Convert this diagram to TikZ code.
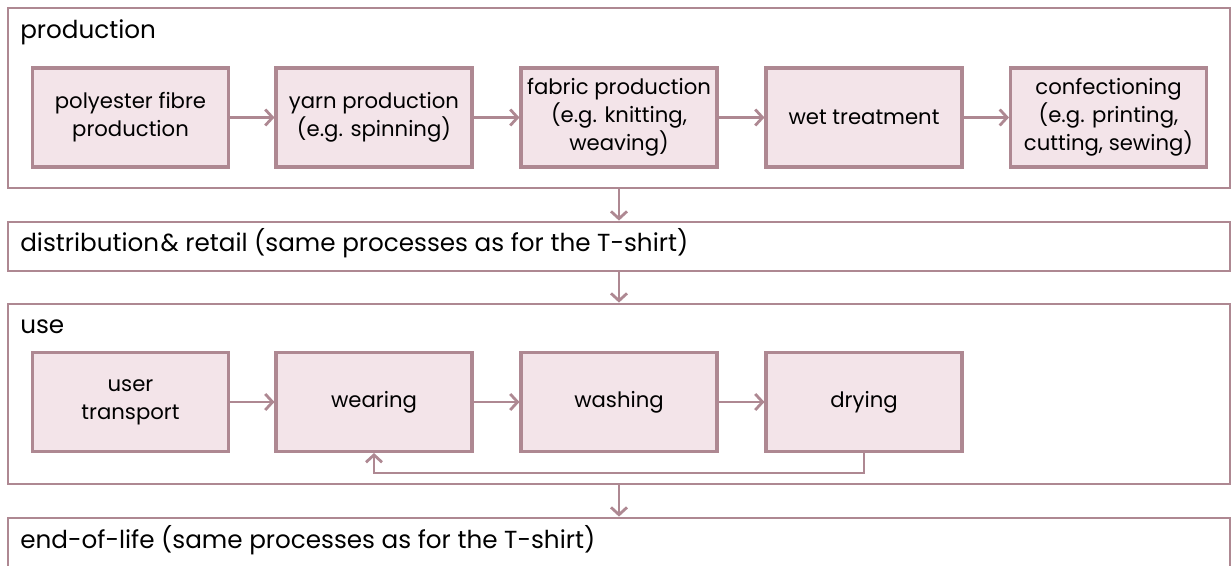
\documentclass[tikz,border=0pt]{standalone}
\usepackage{fontspec}
\setmainfont{Poppins}
\usetikzlibrary{arrows.meta}
\definecolor{linec}{RGB}{174,136,146}
\definecolor{fillc}{RGB}{243,228,233}
\tikzset{
  outerbox/.style={draw=linec, line width=2.1pt, rectangle, minimum width={1222*0.75pt}, minimum height={#1*0.75pt}, inner sep=0pt},
  procbox/.style={draw=linec, fill=fillc, line width=2.3pt, rectangle, minimum width={196*0.75pt}, minimum height={99*0.75pt}, inner sep=1pt, align=center, font=\fontsize{15.9}{21.2}\selectfont},
  lbl/.style={anchor=base west, inner sep=0pt, font=\fontsize{18.5}{22}\selectfont},
  arr/.style={draw=linec, line width=2.1pt, -{Straight Barb[length=5.5pt, width=12pt]}},
}
\begin{document}
\begin{tikzpicture}[x=0.75pt, y=-0.75pt]
\useasboundingbox (0,0) rectangle (1232,566);
% outer boxes
\node[outerbox=180] (prod) at (619,98) {};
\node[outerbox=49] (dist) at (619,246.5) {};
\node[outerbox=180] (use) at (619,394) {};
\node[outerbox=49] (eol) at (619,542.5) {};
% labels
\node[lbl] (lprod) at (20,39) {production};
\node[lbl] (ldist) at (20,252) {distribution\kern1pt\& retail (same processes as for the T-shirt)};
\node[lbl] (luse) at (20,334) {use};
\node[lbl] (leol) at (20,548) {end-of-life (same processes as for the T-shirt)};
% production row
\node[procbox] (p1) at (130.5,117.5) {polyester fibre\\production};
\node[procbox] (p2) at (374,117.5) {yarn production\\(e.g. spinning)};
\node[procbox] (p3) at (619,117.5) {fabric production\\(e.g. knitting,\\weaving)};
\node[procbox] (p4) at (864,117.5) {wet treatment};
\node[procbox] (p5) at (1108.5,117.5) {confectioning\\(e.g. printing,\\cutting, sewing)};
\foreach \a/\b in {p1/p2,p2/p3,p3/p4,p4/p5} \draw[arr] (\a) -- (\b);
% use row
\node[procbox] (u1) at (130.5,402) {user\\transport};
\node[procbox] (u2) at (374,402) {wearing};
\node[procbox] (u3) at (619,402) {washing};
\node[procbox] (u4) at (864,402) {drying};
\foreach \a/\b in {u1/u2,u2/u3,u3/u4} \draw[arr] (\a) -- (\b);
\draw[arr] (u4.south) -- ++(0,20) -| (u2.south);
% between phases
\draw[arr] (prod.south) -- (dist.north);
\draw[arr] (dist.south) -- (use.north);
\draw[arr] (use.south) -- (eol.north);
\end{tikzpicture}
\end{document}
